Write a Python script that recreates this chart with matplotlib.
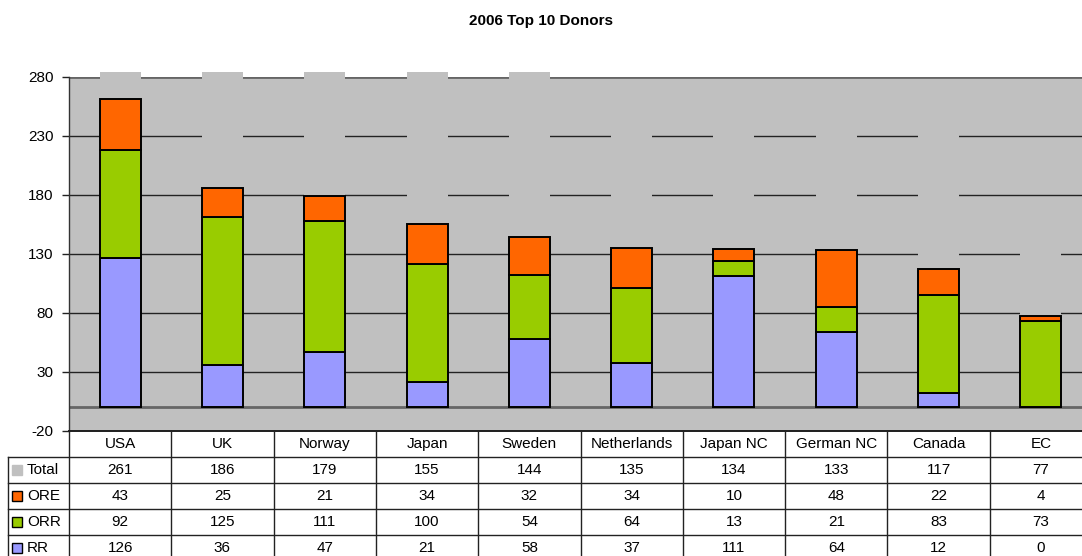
import matplotlib
matplotlib.use("Agg")
import matplotlib.pyplot as plt
import numpy as np
from matplotlib.patches import Rectangle
from matplotlib.transforms import Bbox, TransformedBbox

plt.rcParams['font.family'] = ['Liberation Sans', 'DejaVu Sans']

# data
categories = ['USA', 'UK', 'Norway', 'Japan', 'Sweden', 'Netherlands',
              'Japan NC', 'German NC', 'Canada', 'EC']
total = [261, 186, 179, 155, 144, 135, 134, 133, 117, 77]
ore = [43, 25, 21, 34, 32, 34, 10, 48, 22, 4]
orr = [92, 125, 111, 100, 54, 64, 13, 21, 83, 73]
rr = [126, 36, 47, 21, 58, 37, 111, 64, 12, 0]

series_names = ['Total', 'ORE', 'ORR', 'RR']
series_colors = ['#C0C0C0', '#FF6600', '#99CC00', '#9999FF']
yticks = [-20, 30, 80, 130, 180, 230, 280]

W, H = 1082, 556
fig = plt.figure(figsize=(W / 100, H / 100), dpi=100)

def px_axes(x0, y0, x1, y1):
    return fig.add_axes([x0 / W, 1 - y1 / H, (x1 - x0) / W, (y1 - y0) / H])

# main plot area (right edge runs past the image, like the original)
ax = px_axes(69, 76.7, 1092, 430.7)
ax.set_facecolor('#C0C0C0')
x = np.arange(len(categories))
bw = 0.40
fs = 11

rr_a, orr_a, ore_a, tot_a = map(np.array, (rr, orr, ore, total))
ax.bar(x, rr_a, bw, color=series_colors[3], edgecolor='black', lw=1.4, zorder=3)
ax.bar(x, orr_a, bw, bottom=rr_a, color=series_colors[2], edgecolor='black', lw=1.4, zorder=3)
ax.bar(x, ore_a, bw, bottom=rr_a + orr_a, color=series_colors[1], edgecolor='black', lw=1.4, zorder=3)
tot_bars = ax.bar(x, tot_a, bw, bottom=rr_a + orr_a + ore_a, color=series_colors[0],
                  lw=0, zorder=2)
# Excel lets the grey total bars poke slightly over the top border
clip_box = TransformedBbox(Bbox([[0, 0], [1, 1.012]]), ax.transAxes)
for b in tot_bars:
    b.set_clip_box(clip_box)

ax.set_xlim(-0.5, len(categories) - 0.5)
ax.set_ylim(-20, 280)
ax.set_yticks(yticks)
ax.set_yticklabels([str(v) for v in yticks], fontsize=fs)
ax.set_xticks([])
for v in yticks[1:-1]:
    ax.axhline(v, color='#222222', lw=1, zorder=1)
ax.axhline(280, color='#666666', lw=2, zorder=1.5)
ax.axhline(0, color='#666666', lw=2, zorder=2.5)
ax.tick_params(axis='y', length=5, width=1, color='#222222', pad=6)
for s in ['top', 'right']:
    ax.spines[s].set_visible(False)
ax.spines['left'].set_color('#333333')
ax.spines['left'].set_linewidth(1)
ax.spines['bottom'].set_color('black')
ax.spines['bottom'].set_linewidth(1.2)

fig.text(0.5, 1 - 21 / H, '2006 Top 10 Donors', ha='center', va='center',
         fontsize=11, fontweight='bold')

# data table below the axis
lab_w = 61 / 102.3
tax = px_axes(8, 430.7, 1092, 560.7)
tax.set_xlim(-0.5 - lab_w, len(categories) - 0.5)
tax.set_ylim(5, 0)
tax.axis('off')
lc = '#222222'
# horizontal lines
tax.plot([-0.5, len(categories) - 0.5], [0, 0], color=lc, lw=1.2, clip_on=False)
for r in range(1, 5):
    tax.plot([-0.5 - lab_w, len(categories) - 0.5], [r, r], color=lc, lw=1, clip_on=False)
# vertical lines
tax.plot([-0.5 - lab_w] * 2, [1, 5], color=lc, lw=1, clip_on=False)
for i in range(len(categories) + 1):
    tax.plot([i - 0.5] * 2, [0, 5], color=lc, lw=1, clip_on=False)

for i, c in enumerate(categories):
    tax.text(i, 0.5, c, ha='center', va='center', fontsize=fs)

rows = [total, ore, orr, rr]
for r, (name, col, vals) in enumerate(zip(series_names, series_colors, rows), start=1):
    key = Rectangle((-0.5 - lab_w + 0.04, r + 0.31), 0.095, 0.38,
                    facecolor=col, edgecolor='black' if r > 1 else col, lw=1)
    tax.add_patch(key)
    tax.text(-0.5 - lab_w + 0.185, r + 0.52, name, ha='left', va='center', fontsize=fs)
    for i, v in enumerate(vals):
        tax.text(i, r + 0.5, str(v), ha='center', va='center', fontsize=fs)

fig.savefig('out.png', dpi=100)
